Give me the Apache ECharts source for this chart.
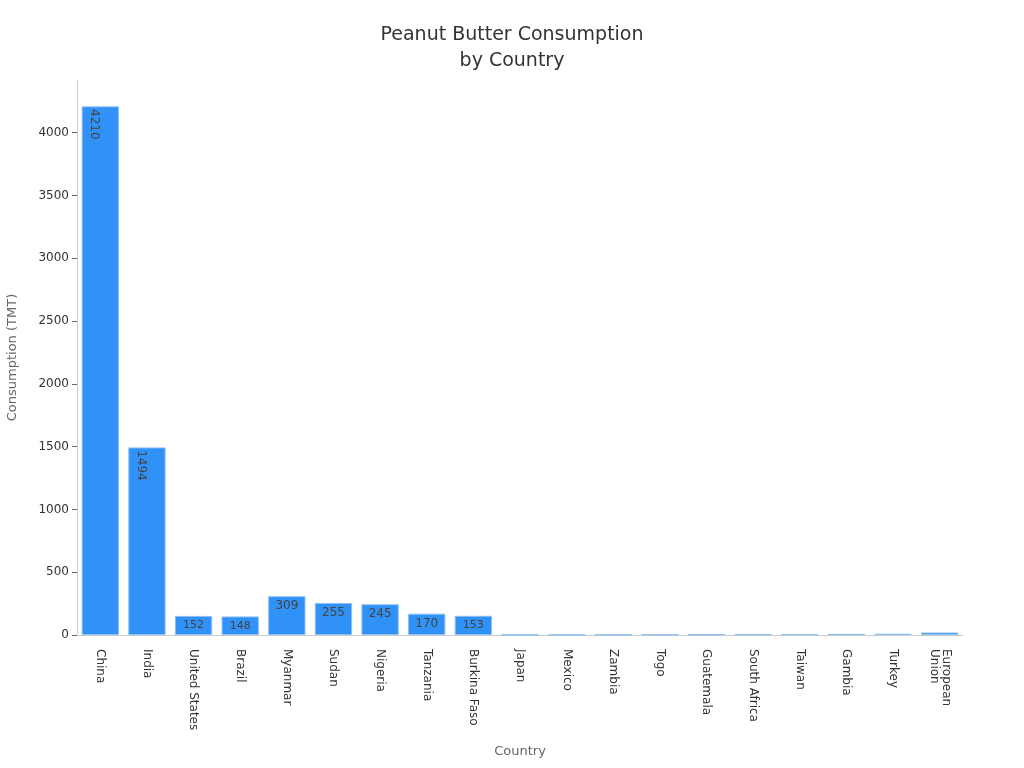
<!DOCTYPE html>
<html><head><meta charset="utf-8">
<script src="https://cdn.jsdelivr.net/npm/echarts@6/dist/echarts.min.js"></script>
</head><body style="margin:0">
<div id="main" style="width:1024px;height:768px;"></div>
<script>
var countries = ['China','India','United States','Brazil','Myanmar','Sudan','Nigeria','Tanzania','Burkina Faso','Japan','Mexico','Zambia','Togo','Guatemala','South Africa','Taiwan','Gambia','Turkey','European\nUnion'];
var consumption = [4210,1494,152,148,309,255,245,170,153,1,1,3,4,5,6,8,9,10,20];

var chart = echarts.init(document.getElementById('main'));
var data = consumption.map(function (v, i) {
    var item = {value: v};
    if (v > 1000) {
        item.label = {show: true, rotate: -90, position: 'insideTop', distance: 18, fontSize: 12};
    } else if (v > 100) {
        item.label = {show: true, position: 'insideTop', distance: 4, fontSize: v < 160 ? 11 : 12};
    }
    return item;
});
chart.setOption({
    animation: false,
    title: {
        text: 'Peanut Butter Consumption\nby Country',
        left: 'center', top: 17,
        textStyle: {fontFamily: 'DejaVu Sans', fontWeight: 'normal', fontSize: 19, color: '#333', lineHeight: 26}
    },
    grid: {left: 77, right: 61, top: 80, bottom: 133, outerBoundsMode: 'none'},
    xAxis: {
        type: 'category', data: countries,
        name: 'Country', nameLocation: 'middle', nameGap: 110,
        nameTextStyle: {fontFamily: 'DejaVu Sans', fontSize: 13, color: '#666'},
        axisLabel: {rotate: -90, interval: 0, margin: 14, fontFamily: 'DejaVu Sans', fontSize: 12, color: '#333', align: 'left', verticalAlign: 'middle'},
        axisTick: {alignWithLabel: true, lineStyle: {color: '#666'}},
        axisLine: {lineStyle: {color: '#ccc'}}
    },
    yAxis: {
        type: 'value', min: 0, max: 4420, interval: 500,
        name: 'Consumption (TMT)', nameLocation: 'middle', nameGap: 58,
        nameTextStyle: {fontFamily: 'DejaVu Sans', fontSize: 13, color: '#666'},
        axisLabel: {fontFamily: 'DejaVu Sans', fontSize: 12, color: '#333',
            showMaxLabel: false, formatter: function (v) { return String(v); }},
        axisLine: {show: true, lineStyle: {color: '#ccc'}},
        axisTick: {show: true, lineStyle: {color: '#666'}},
        splitLine: {show: false}
    },
    series: [{
        type: 'bar', data: data, barCategoryGap: '20%',
        itemStyle: {color: '#3091F7', borderColor: '#8CC0F5', borderWidth: 1},
        label: {show: false, color: '#444', fontFamily: 'DejaVu Sans'}
    }]
});
</script>
</body></html>
